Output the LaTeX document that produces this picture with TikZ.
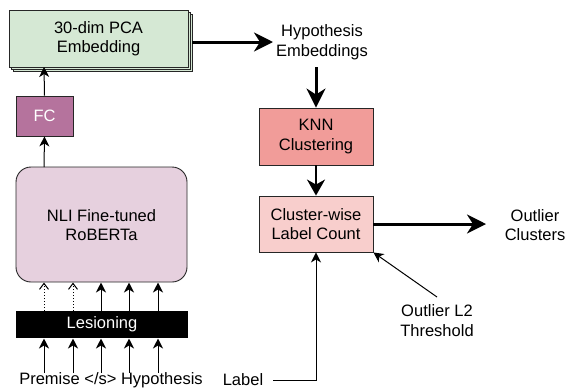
\documentclass[tikz,border=0pt]{standalone}
\usepackage{fontspec}
\setmainfont{Liberation Sans}
\usetikzlibrary{arrows.meta}
\definecolor{pcag}{HTML}{D5E8D4}
\definecolor{fcp}{HTML}{B5739D}
\definecolor{robp}{HTML}{E6D0DE}
\definecolor{knnr}{HTML}{F19C99}
\definecolor{clr}{HTML}{F8CECC}
\tikzset{
  box/.style={draw=black!85, line width=0.9pt, inner sep=0pt},
  lbl/.style={align=center, font=\fontsize{16.5}{19.5}\selectfont},
  thin arr/.style={line width=1pt, -{Stealth[length=10pt,width=10pt,inset=3pt]}},
  dot arr/.style={line width=1pt, dotted, -{Straight Barb[length=6pt,width=9pt]}},
  thick arr/.style={line width=3pt, -{Stealth[length=19pt,width=19pt,inset=6pt]}},
  mid arr/.style={line width=2pt, -{Stealth[length=16pt,width=18pt,inset=5pt]}},
}
\begin{document}
\begin{tikzpicture}[x=1pt,y=-1pt]
\useasboundingbox (0,0) rectangle (569,389);
% PCA stack
\draw[box, fill=pcag] (13,14) rectangle (192,71);
\draw[box, fill=pcag] (11,12) rectangle (190,69);
\draw[box, fill=pcag] (9,10) rectangle (188,67);
\node[lbl] (pca) at (98.5,38.5) {30-dim PCA\\Embedding};
\coordinate (pcar) at (192,42);
\coordinate (pcab) at (44,67);
% FC
\node[box, fill=fcp, minimum width=57pt, minimum height=40pt, text=white, font=\fontsize{16.5}{19.5}\selectfont] (fc) at (44.5,116) {FC};
% RoBERTa
\draw[box, fill=robp, rounded corners=15pt] (16,167) rectangle (187,282);
\node[lbl] (rob) at (101.5,225) {NLI Fine-tuned\\RoBERTa};
% Lesioning
\node[fill=black, minimum width=172pt, minimum height=27pt, inner sep=0pt, text=white, font=\fontsize{16.5}{19.5}\selectfont] (les) at (102,324.5) {Lesioning};
% arrows
\draw[thin arr] (fc.north) -- (pcab);
\draw[thin arr] (44,167) -- (fc.south);
\foreach \x/\s in {44/dot arr,73/dot arr,101/thin arr,129/thin arr,158/thin arr}{
  \draw[\s] (\x,311) -- (\x,282.5);
  \draw[thin arr] (\x,373) -- (\x,338.5);
}
\node[lbl] (inp) at (111,380) {Premise </s> Hypothesis};
% Hypothesis Embeddings
\node[lbl] (hyp) at (322,42) {Hypothesis\\Embeddings};
\draw[thick arr] (pcar) -- (273,42);
\node[box, fill=knnr, minimum width=114pt, minimum height=57pt, lbl] (knn) at (316,136.5) {KNN\\Clustering};
\draw[thick arr] (316,67) -- (knn.north);
\node[box, fill=clr, minimum width=114pt, minimum height=56pt, lbl] (cl) at (316,224) {Cluster-wise\\Label Count};
\draw[mid arr] (knn.south) -- (cl.north);
\node[lbl] (oc) at (535,225) {Outlier\\Clusters};
\draw[thick arr] (cl.east) -- (486,224);
\node[lbl] (thr) at (437,320.5) {Outlier L2\\Threshold};
\coordinate (thrs) at (437,297);
\draw[thin arr] (thrs) -- (cl.south east);
\node[lbl] (lab) at (243,380) {Label};
\coordinate (labe) at (273,380);
\draw[thin arr] (labe) -- (316,380) -- (cl.south);
\end{tikzpicture}
\end{document}
